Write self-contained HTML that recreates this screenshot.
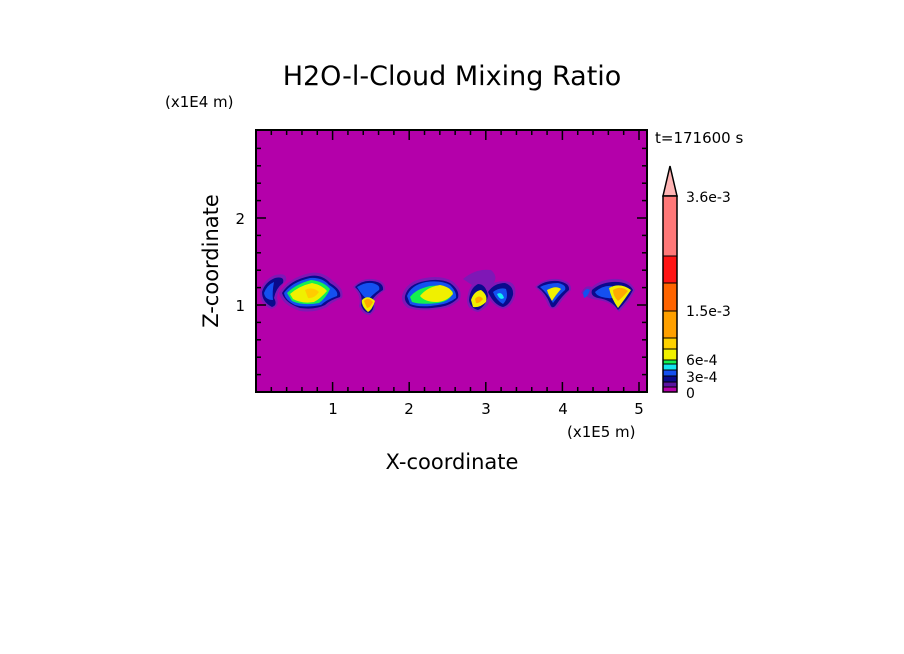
<!DOCTYPE html>
<html><head><style>body{margin:0;background:#fff}svg{display:block}</style></head><body>
<svg id="s" width="904" height="654" xmlns="http://www.w3.org/2000/svg" font-family="DejaVu Sans, Liberation Sans, sans-serif">
<rect width="904" height="654" fill="#fff"/>
<text x="452" y="85" font-size="27" text-anchor="middle">H2O-l-Cloud Mixing Ratio</text>
<text x="165" y="107" font-size="15">(x1E4 m)</text>
<text x="655" y="143" font-size="15">t=171600 s</text>
<rect x="256" y="130" width="391" height="262" fill="#b400aa"/>
<g>
<!-- halos -->
<g fill="#7a1ab8" opacity="0.9">
<path d="M260,292 Q263,280 275,275 Q288,272 286,281 Q278,288 277,298 Q280,307 271,309 Q259,303 260,292Z"/>
<path d="M279,293 Q288,278 310,273 Q323,271 333,281 Q345,289 342,298 Q332,302 327,307 Q315,313 300,311 Q282,305 279,293Z"/>
<path d="M353,287 Q361,278 372,279 Q386,280 385,290 Q378,295 374,301 Q378,310 370,315 Q362,315 359,306 Q362,296 353,287Z"/>
<path d="M402,296 Q406,281 425,278 Q441,275 452,281 Q463,289 460,299 Q454,307 440,309 Q420,312 408,308 Q401,303 402,296Z"/>
<path d="M463,279 Q476,268 491,270 Q498,276 494,283 Q500,280 510,282 Q517,285 515,296 Q512,307 503,309 Q495,307 490,300 Q488,308 478,312 Q467,310 467,300 Q468,290 472,285Z"/>
<path d="M535,287 Q544,278 558,279 Q572,281 571,290 Q564,297 558,306 Q552,312 548,305 Q544,294 535,287Z"/>
<path d="M581,293 Q585,284 592,287 Q600,280 612,279 Q630,278 635,290 Q630,301 619,312 Q612,302 598,300 Q588,299 581,293Z"/>
</g>
<!-- blob1 -->
<path d="M262,292 Q265,282 275,278 Q285,276 283,283 Q276,288 274,298 Q278,305 272,307 Q262,302 262,292Z" fill="#0a0a8c"/>
<path d="M264,293 Q267,285 274,282 Q272,292 273,300 Q265,300 264,293Z" fill="#1450f0"/>
<!-- blob2 -->
<path d="M282,293 Q290,280 310,276 Q322,274 330,283 Q342,290 340,297 Q330,300 325,305 Q315,310 300,308 Q285,303 282,293Z" fill="#0a0a8c"/>
<path d="M284,293 Q292,282 310,278 Q322,277 329,285 Q339,291 337,296 Q326,300 321,305 Q305,308 295,305 Q285,300 284,293Z" fill="#1450f0"/>
<path d="M287,293 Q296,284 311,280 Q323,281 330,289 Q326,298 319,303 Q303,306 292,301Z" fill="#14f050"/>
<path d="M290,294 Q299,286 312,283 Q322,285 327,291 Q320,299 314,302 Q302,304 293,299Z" fill="#f0f000"/>
<path d="M305,290 Q312,286 319,292 Q314,299 308,298Z" fill="#ffcc00"/>
<!-- blob3 -->
<path d="M355,287 Q362,280 372,281 Q384,282 383,290 Q376,294 372,300 Q376,308 370,313 Q364,313 361,305 Q364,295 355,287Z" fill="#0a0a8c"/>
<path d="M357,287 Q365,282 372,283 Q381,285 379,290 Q372,295 368,300 Q363,297 357,287Z" fill="#1450f0"/>
<path d="M362,300 Q368,294 375,301 Q372,310 368,312 Q361,306 362,300Z" fill="#f0f000"/>
<path d="M364,301 Q368,296 373,302 Q370,308 367,308Z" fill="#ffaa00"/>
<!-- blob4 -->
<path d="M405,296 Q408,284 425,281 Q440,278 450,283 Q460,290 458,298 Q452,305 440,307 Q420,310 410,306 Q404,302 405,296Z" fill="#0a0a8c"/>
<path d="M407,296 Q411,285 426,282 Q441,280 450,285 Q457,292 456,298 Q448,304 438,305 Q420,308 410,304Z" fill="#1450f0"/>
<path d="M410,297 Q416,289 430,286 Q446,284 453,292 Q451,301 438,303 Q421,305 412,302Z" fill="#14f050"/>
<path d="M420,296 Q427,287 440,285 Q451,287 453,294 Q446,302 436,302 Q425,302 420,296Z" fill="#f0f000"/>
<!-- blob5 -->
<path d="M469,300 Q470,288 478,284 Q486,284 488,296 Q486,306 478,310 Q470,308 469,300Z" fill="#0a0a8c"/>
<path d="M471,300 Q474,291 481,290 Q488,295 486,302 Q480,308 473,307Z" fill="#f0f000"/>
<path d="M475,299 Q479,294 483,299 Q479,304 476,303Z" fill="#ffaa00"/>
<!-- blob6 -->
<path d="M488,292 Q494,283 505,283 Q514,286 513,295 Q510,305 503,307 Q494,305 488,292Z" fill="#0a0a8c"/>
<path d="M493,292 Q500,287 506,289 Q509,298 503,304 Q496,300 493,292Z" fill="#1450f0"/>
<path d="M497,294 Q502,291 504,298 Q500,301 497,294Z" fill="#14f0f0"/>
<!-- blob7 -->
<path d="M537,287 Q545,280 558,281 Q570,283 569,290 Q562,296 556,305 Q552,310 550,304 Q546,293 537,287Z" fill="#0a0a8c"/>
<path d="M540,287 Q548,283 558,283 Q567,285 565,290 Q558,296 553,303 Q548,294 540,287Z" fill="#1450f0"/>
<path d="M547,290 Q556,285 561,289 Q555,296 552,301 Q548,294 547,290Z" fill="#f0f000"/>
<!-- blob8 -->
<path d="M583,293 Q586,287 590,290 Q588,297 584,298Z" fill="#1450f0"/>
<path d="M592,290 Q600,283 612,282 Q628,281 633,290 Q628,300 618,310 Q612,300 598,298 Q590,296 592,290Z" fill="#0a0a8c"/>
<path d="M595,292 Q603,285 612,286 Q618,300 608,298 Q597,297 595,292Z" fill="#1450f0"/>
<path d="M609,288 Q620,282 631,290 Q625,299 618,308 Q611,298 609,288Z" fill="#f0f000"/>
<path d="M613,290 Q621,285 628,291 Q622,298 618,301 Q613,296 613,290Z" fill="#ffaa00"/>
</g>
<rect x="256" y="130" width="391" height="262" fill="none" stroke="#000" stroke-width="2"/>
<g id="ticks" stroke="#000" stroke-width="1.5"></g>
<text x="333" y="414" font-size="15" text-anchor="middle">1</text>
<text x="409" y="414" font-size="15" text-anchor="middle">2</text>
<text x="486" y="414" font-size="15" text-anchor="middle">3</text>
<text x="563" y="414" font-size="15" text-anchor="middle">4</text>
<text x="639" y="414" font-size="15" text-anchor="middle">5</text>
<text x="245" y="311" font-size="15" text-anchor="end">1</text>
<text x="245" y="224" font-size="15" text-anchor="end">2</text>
<text x="567" y="437" font-size="15">(x1E5 m)</text>
<text x="452" y="469" font-size="21" text-anchor="middle">X-coordinate</text>
<text transform="translate(218,261) rotate(-90)" font-size="21" text-anchor="middle">Z-coordinate</text>
<!-- colorbar -->
<polygon points="663,196 677,196 670,166" fill="#ffb4b4" stroke="#000" stroke-width="1.5"/>
<rect x="663" y="196" width="14" height="60" fill="#ff7878"/>
<rect x="663" y="256" width="14" height="27" fill="#ff1414"/>
<rect x="663" y="283" width="14" height="28" fill="#ff6400"/>
<rect x="663" y="311" width="14" height="27" fill="#ffa000"/>
<rect x="663" y="338" width="14" height="11" fill="#ffd200"/>
<rect x="663" y="349" width="14" height="11" fill="#f0f000"/>
<rect x="663" y="360" width="14" height="4" fill="#14f050"/>
<rect x="663" y="364" width="14" height="6" fill="#14e6f0"/>
<rect x="663" y="370" width="14" height="6" fill="#1450f0"/>
<rect x="663" y="376" width="14" height="6" fill="#0a0a8c"/>
<rect x="663" y="382" width="14" height="5" fill="#5a14a0"/>
<rect x="663" y="387" width="14" height="5" fill="#b400aa"/>
<g stroke="#000" stroke-width="1">
<line x1="663" y1="256" x2="677" y2="256"/><line x1="663" y1="283" x2="677" y2="283"/><line x1="663" y1="311" x2="677" y2="311"/><line x1="663" y1="338" x2="677" y2="338"/><line x1="663" y1="349" x2="677" y2="349"/><line x1="663" y1="360" x2="677" y2="360"/><line x1="663" y1="364" x2="677" y2="364"/><line x1="663" y1="370" x2="677" y2="370"/><line x1="663" y1="376" x2="677" y2="376"/><line x1="663" y1="382" x2="677" y2="382"/><line x1="663" y1="387" x2="677" y2="387"/>
</g>
<rect x="663" y="196" width="14" height="196" fill="none" stroke="#000" stroke-width="1.5"/>
<text x="686" y="202" font-size="14">3.6e-3</text>
<text x="686" y="316" font-size="14">1.5e-3</text>
<text x="686" y="365" font-size="14">6e-4</text>
<text x="686" y="382" font-size="14">3e-4</text>
<text x="686" y="398" font-size="14">0</text>
</svg>
<script>
var g=document.getElementById('ticks'),ns='http://www.w3.org/2000/svg',h='';
function L(a,b,c,d){h+='<line x1="'+a+'" y1="'+b+'" x2="'+c+'" y2="'+d+'"/>';}
for(var i=1;i<26;i++){var x=256+i*76.6/5,len=(i%5==0)?10:5;if(x>646)break;L(x,392,x,392-len);L(x,130,x,130+len);}
for(var j=1;j<15;j++){var y=392-j*87/5,len=(j%5==0)?10:5;if(y<131)break;L(256,y,256+len,y);L(647,y,647-len,y);}
g.innerHTML=h;
</script>
</body></html>
